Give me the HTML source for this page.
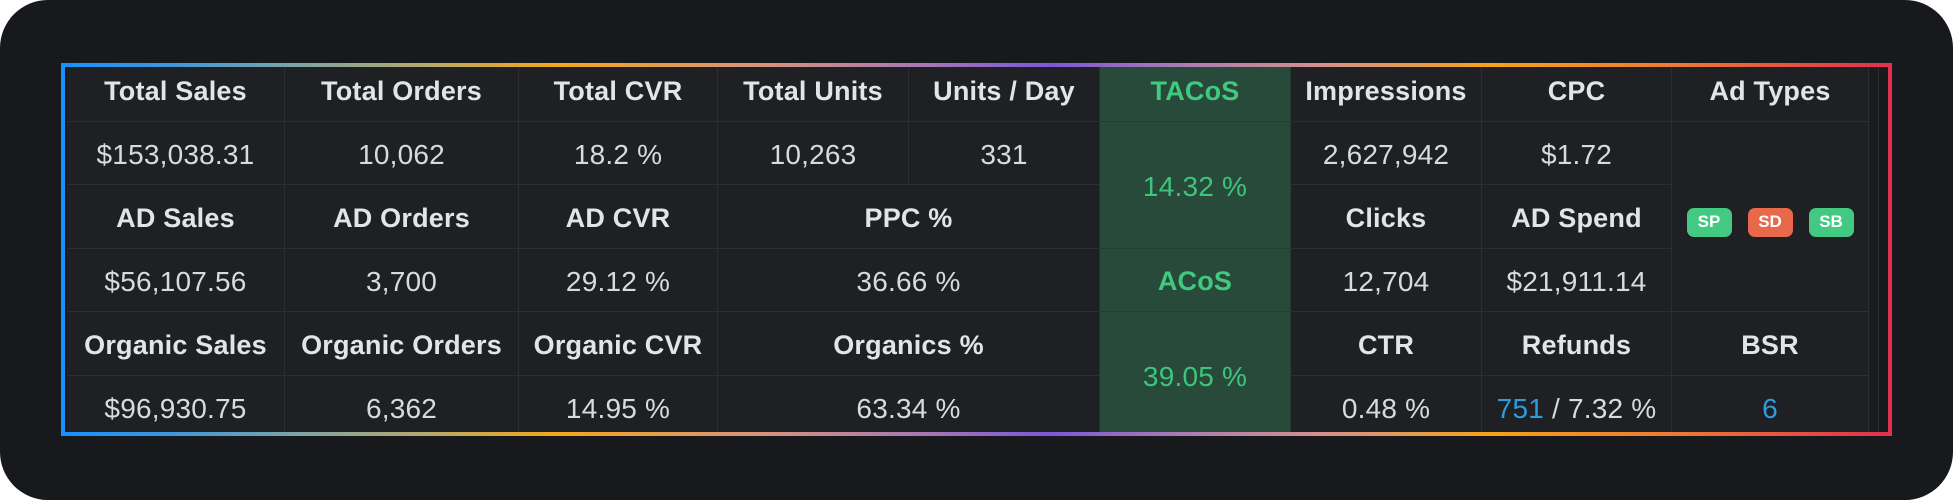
<!DOCTYPE html>
<html>
<head>
<meta charset="utf-8">
<style>
  html,body{margin:0;padding:0;background:#ffffff;}
  body{width:1953px;height:500px;position:relative;overflow:hidden;font-family:"Liberation Sans",Arial,sans-serif;}
  .card{position:absolute;left:0;top:0;width:1953px;height:500px;background:#18191c;border-radius:48px;}
  .frame{position:absolute;left:61px;top:63px;width:1831px;height:373px;
    background:linear-gradient(90deg,#1890ff 0%,#3f96dc 6%,#7ea4a6 13%,#b7a86a 20%,#f4a61c 27%,#d9937a 38%,#a877b4 47%,#7b58d8 54%,#b07fb0 62%,#d6908c 69%,#f6a21a 78%,#ec7a34 88%,#e0304e 100%);}
  .clip{position:absolute;left:65px;top:67px;width:1823px;height:365px;background:#18191c;overflow:hidden;}
  .c{position:absolute;box-sizing:border-box;border-right:1px solid #2c2e33;border-bottom:1px solid #2c2e33;
     display:flex;align-items:center;justify-content:center;background:#1f2024;padding-top:3px;white-space:nowrap;}
  .h{font-weight:bold;font-size:27px;letter-spacing:0.2px;color:#e3e4e8;}
  .v{font-size:28px;letter-spacing:0.2px;color:#d9dadd;}
  .g{background:#284a3b;border-right-color:#243f31;border-bottom-color:#22402f;}
  .gh{color:#40c97f;}
  .gv{color:#3fc47c;}
  .blue{color:#2e9bdc;}
  .badges{gap:16px;padding-top:11px;}
  .b{width:45px;height:29px;border-radius:7px;color:#fff;font-weight:bold;font-size:17px;display:flex;align-items:center;justify-content:center;}
  .bg{background:#44c983;}
  .br{background:#e8684a;}
  .gut1{position:absolute;left:1804px;top:0;width:9px;height:365px;background:#1a1b1e;border-right:1px solid #2a2c30;}
  .lstrip{position:absolute;left:0;top:0;width:2px;height:365px;background:#18191c;}
</style>
</head>
<body>
<div class="card"></div>
<div class="frame"></div>
<div class="clip">
  <div class="lstrip"></div>
  <!-- Row 0 -->
  <div class="c h" style="left:2px;top:-9px;width:218px;height:64px;">Total Sales</div>
  <div class="c h" style="left:220px;top:-9px;width:234px;height:64px;">Total Orders</div>
  <div class="c h" style="left:454px;top:-9px;width:199px;height:64px;">Total CVR</div>
  <div class="c h" style="left:653px;top:-9px;width:191px;height:64px;">Total Units</div>
  <div class="c h" style="left:844px;top:-9px;width:191px;height:64px;">Units / Day</div>
  <div class="c h g gh" style="left:1035px;top:-9px;width:191px;height:64px;">TACoS</div>
  <div class="c h" style="left:1226px;top:-9px;width:191px;height:64px;">Impressions</div>
  <div class="c h" style="left:1417px;top:-9px;width:190px;height:64px;">CPC</div>
  <div class="c h" style="left:1607px;top:-9px;width:197px;height:64px;">Ad Types</div>

  <!-- Row 1 -->
  <div class="c v" style="left:2px;top:55px;width:218px;height:63px;">$153,038.31</div>
  <div class="c v" style="left:220px;top:55px;width:234px;height:63px;">10,062</div>
  <div class="c v" style="left:454px;top:55px;width:199px;height:63px;">18.2 %</div>
  <div class="c v" style="left:653px;top:55px;width:191px;height:63px;">10,263</div>
  <div class="c v" style="left:844px;top:55px;width:191px;height:63px;">331</div>
  <div class="c v g gv" style="left:1035px;top:55px;width:191px;height:127px;">14.32 %</div>
  <div class="c v" style="left:1226px;top:55px;width:191px;height:63px;">2,627,942</div>
  <div class="c v" style="left:1417px;top:55px;width:190px;height:63px;">$1.72</div>
  <div class="c badges" style="left:1607px;top:55px;width:197px;height:190px;">
    <div class="b bg">SP</div><div class="b br">SD</div><div class="b bg">SB</div>
  </div>

  <!-- Row 2 -->
  <div class="c h" style="left:2px;top:118px;width:218px;height:64px;">AD Sales</div>
  <div class="c h" style="left:220px;top:118px;width:234px;height:64px;">AD Orders</div>
  <div class="c h" style="left:454px;top:118px;width:199px;height:64px;">AD CVR</div>
  <div class="c h" style="left:653px;top:118px;width:382px;height:64px;">PPC %</div>
  <div class="c h" style="left:1226px;top:118px;width:191px;height:64px;">Clicks</div>
  <div class="c h" style="left:1417px;top:118px;width:190px;height:64px;">AD Spend</div>

  <!-- Row 3 -->
  <div class="c v" style="left:2px;top:182px;width:218px;height:63px;">$56,107.56</div>
  <div class="c v" style="left:220px;top:182px;width:234px;height:63px;">3,700</div>
  <div class="c v" style="left:454px;top:182px;width:199px;height:63px;">29.12 %</div>
  <div class="c v" style="left:653px;top:182px;width:382px;height:63px;">36.66 %</div>
  <div class="c h g gh" style="left:1035px;top:182px;width:191px;height:63px;">ACoS</div>
  <div class="c v" style="left:1226px;top:182px;width:191px;height:63px;">12,704</div>
  <div class="c v" style="left:1417px;top:182px;width:190px;height:63px;">$21,911.14</div>

  <!-- Row 4 -->
  <div class="c h" style="left:2px;top:245px;width:218px;height:64px;">Organic Sales</div>
  <div class="c h" style="left:220px;top:245px;width:234px;height:64px;">Organic Orders</div>
  <div class="c h" style="left:454px;top:245px;width:199px;height:64px;">Organic CVR</div>
  <div class="c h" style="left:653px;top:245px;width:382px;height:64px;">Organics %</div>
  <div class="c v g gv" style="left:1035px;top:245px;width:191px;height:128px;">39.05 %</div>
  <div class="c h" style="left:1226px;top:245px;width:191px;height:64px;">CTR</div>
  <div class="c h" style="left:1417px;top:245px;width:190px;height:64px;">Refunds</div>
  <div class="c h" style="left:1607px;top:245px;width:197px;height:64px;">BSR</div>

  <!-- Row 5 -->
  <div class="c v" style="left:2px;top:309px;width:218px;height:64px;">$96,930.75</div>
  <div class="c v" style="left:220px;top:309px;width:234px;height:64px;">6,362</div>
  <div class="c v" style="left:454px;top:309px;width:199px;height:64px;">14.95 %</div>
  <div class="c v" style="left:653px;top:309px;width:382px;height:64px;">63.34 %</div>
  <div class="c v" style="left:1226px;top:309px;width:191px;height:64px;">0.48 %</div>
  <div class="c v" style="left:1417px;top:309px;width:190px;height:64px;"><span class="blue">751</span>&nbsp;/ 7.32 %</div>
  <div class="c v" style="left:1607px;top:309px;width:197px;height:64px;"><span class="blue">6</span></div>

  <div class="gut1"></div>
</div>
</body>
</html>
